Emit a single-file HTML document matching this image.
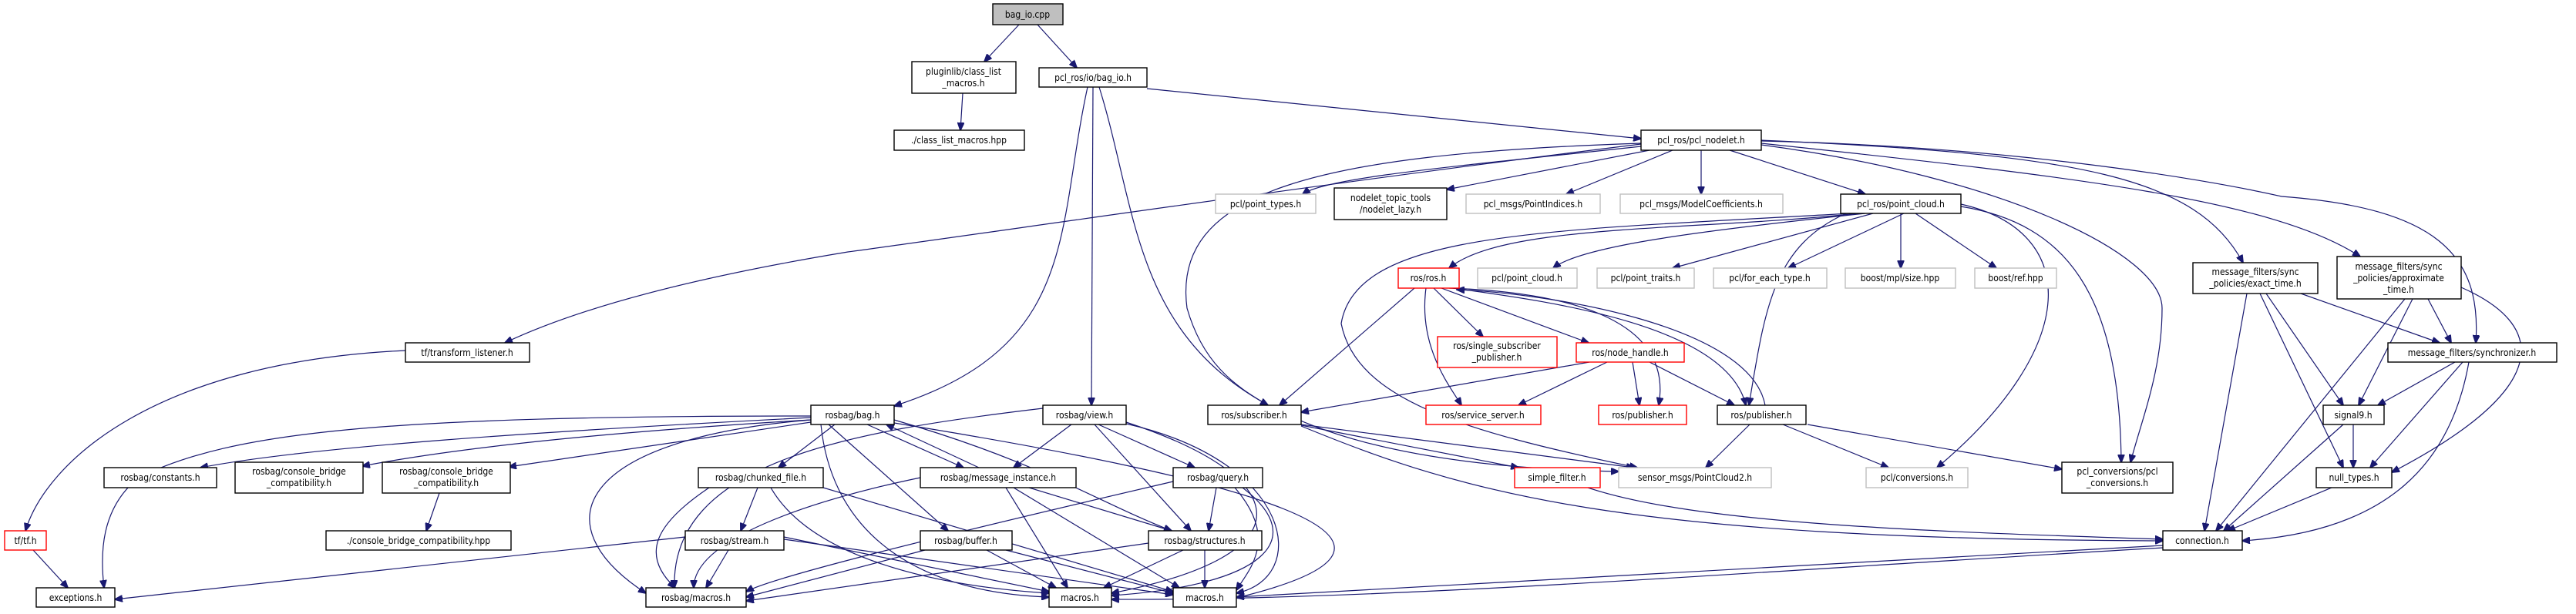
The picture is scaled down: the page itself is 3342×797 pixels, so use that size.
<!DOCTYPE html>
<html><head><meta charset="utf-8"><style>
html,body{margin:0;padding:0;background:#fff;}
svg{display:block;}
text{font-family:"DejaVu Sans Condensed","DejaVu Sans","Liberation Sans",sans-serif;font-size:12px;fill:#000;text-anchor:middle;}
.b{fill:#fff;stroke:#000;stroke-width:1.4;}
.g{fill:#fff;stroke:#bfbfbf;stroke-width:1.4;}
.r{fill:#fff;stroke:#ff0000;stroke-width:1.4;}
.s{fill:#bfbfbf;stroke:#000;stroke-width:1.4;}
path{fill:none;stroke:#191970;stroke-width:1.2;}
</style></head><body>
<svg width="3342" height="797" viewBox="0 0 3342 797" xmlns="http://www.w3.org/2000/svg">
<defs><marker id="a" markerWidth="11" markerHeight="9" refX="10" refY="4.5" orient="auto" markerUnits="userSpaceOnUse"><polygon points="0,0 11,4.5 0,9" fill="#191970" stroke="#191970"/></marker></defs>
<g marker-end="url(#a)">
<path d="M1322,32 L1277,80"/>
<path d="M1346,32 L1397,88"/>
<path d="M1249,121 L1246,169"/>
<path d="M1488,115 L2129,180"/>
<path d="M1411,113 C1370,300 1400,450 1160,527"/>
<path d="M1418,113 L1416,526"/>
<path d="M1426,113 C1500,350 1450,600 2100,612"/>
<path d="M2129,187 C1700,240 1300,300 1100,327 C900,360 750,400 655,445"/>
<path d="M2129,190 C1900,215 1720,230 1690,252"/>
<path d="M2140,195 L1877,246"/>
<path d="M2170,195 L2032,252"/>
<path d="M2207,195 L2207,252"/>
<path d="M2244,195 L2420,252"/>
<path d="M2129,186 C1700,200 1520,250 1540,400 C1560,470 1600,500 1645,526"/>
<path d="M2285,182 C2700,200 2850,230 2910,341"/>
<path d="M2285,186 C2700,230 2950,260 3062,333"/>
<path d="M2285,183 C2600,190 2850,230 2960,255 C3160,270 3220,330 3212,445"/>
<path d="M2285,188 C2600,230 2805,330 2805,400 C2805,480 2780,540 2764,600"/>
<path d="M2544,268 C2680,290 2750,380 2752,600"/>
<path d="M2544,265 C2700,300 2700,450 2513,607"/>
<path d="M2410,277 C2200,300 1950,290 1880,348"/>
<path d="M2420,277 C2200,300 2050,320 2015,348"/>
<path d="M2430,277 L2170,348"/>
<path d="M2470,277 L2320,348"/>
<path d="M2466,277 L2466,348"/>
<path d="M2485,277 L2590,348"/>
<path d="M2400,277 C2000,300 1760,300 1740,420 C1760,520 1900,560 2124,607"/>
<path d="M2395,277 C2300,320 2290,400 2269,526"/>
<path d="M1835,374 L1660,526"/>
<path d="M1860,374 L1924,437"/>
<path d="M1870,374 L2061,445"/>
<path d="M1850,374 C1840,450 1880,500 1896,526"/>
<path d="M1880,374 C2050,380 2170,420 2152,526"/>
<path d="M1885,374 C2000,390 2240,420 2265,526"/>
<path d="M2290,526 C2270,420 2000,380 1890,376"/>
<path d="M2062,470 L1688,535"/>
<path d="M2085,470 L1970,526"/>
<path d="M2118,470 L2127,526"/>
<path d="M2140,470 L2250,526"/>
<path d="M1688,551 L2120,607"/>
<path d="M1688,553 C1900,640 2100,700 2806,702"/>
<path d="M1688,552 L1970,607"/>
<path d="M2060,633 C2200,680 2500,690 2806,700"/>
<path d="M2270,551 L2213,607"/>
<path d="M2313,551 L2450,607"/>
<path d="M2345,551 L2675,609"/>
<path d="M2985,381 L3165,445"/>
<path d="M2940,381 L3040,526"/>
<path d="M2932,381 L3040,607"/>
<path d="M2915,381 L2860,689"/>
<path d="M3150,388 L3180,445"/>
<path d="M3130,388 L3060,526"/>
<path d="M3120,388 L2875,689"/>
<path d="M3193,373 C3300,420 3320,500 3103,613"/>
<path d="M3185,470 L3085,526"/>
<path d="M3195,470 L3075,607"/>
<path d="M3203,470 C3180,600 3100,690 2909,702"/>
<path d="M3053,551 L3053,607"/>
<path d="M3040,551 L2885,689"/>
<path d="M3025,633 L2890,689"/>
<path d="M2806,708 L1604,775"/>
<path d="M2806,711 C2300,740 1800,780 1442,778"/>
<path d="M1052,540 C500,540 300,560 180,620 C130,660 130,720 135,763"/>
<path d="M1052,542 C700,560 400,580 260,607"/>
<path d="M1052,545 C800,560 600,580 470,605"/>
<path d="M1052,548 L660,606"/>
<path d="M1052,545 C750,570 700,680 838,770"/>
<path d="M1083,551 L1010,607"/>
<path d="M1125,551 L1250,607"/>
<path d="M1075,551 L1230,689"/>
<path d="M1160,545 C1350,600 1420,650 1520,689"/>
<path d="M1065,551 C1080,700 1200,770 1361,775"/>
<path d="M1160,549 C1600,620 1920,700 1604,776"/>
<path d="M1270,607 L1150,551"/>
<path d="M1335,633 L1520,689"/>
<path d="M1305,633 L1385,763"/>
<path d="M1315,633 L1530,763"/>
<path d="M1194,620 C1050,650 900,700 900,763"/>
<path d="M1353,530 C1100,560 870,600 875,763"/>
<path d="M1390,551 L1315,607"/>
<path d="M1425,551 L1550,607"/>
<path d="M1420,551 L1545,689"/>
<path d="M1461,550 C1680,600 1700,750 1604,770"/>
<path d="M1461,548 C1680,620 1700,720 1442,770"/>
<path d="M1578,633 L1568,689"/>
<path d="M1602,633 C1660,700 1620,740 1604,766"/>
<path d="M1612,633 C1700,700 1640,760 1442,773"/>
<path d="M1522,625 C1200,700 1000,750 968,768"/>
<path d="M1280,714 L1370,763"/>
<path d="M1305,714 L1522,770"/>
<path d="M1200,714 L968,775"/>
<path d="M1535,714 L1432,763"/>
<path d="M1563,714 L1563,763"/>
<path d="M1490,705 L968,780"/>
<path d="M983,633 L961,689"/>
<path d="M920,633 C850,680 830,720 876,763"/>
<path d="M1068,633 L1522,768"/>
<path d="M1000,633 C1050,720 1200,760 1361,770"/>
<path d="M889,697 L149,778"/>
<path d="M945,714 L916,763"/>
<path d="M1017,697 L1361,768"/>
<path d="M1017,700 L1522,772"/>
<path d="M570,640 L553,689"/>
<path d="M526,455 C200,470 60,600 33,689"/>
<path d="M43,714 L88,763"/>
</g>
<g>
<rect class="s" x="1288" y="5" width="91" height="27"/><text x="1333" y="23">bag_io.cpp</text>
<rect class="b" x="1183" y="80" width="135" height="41"/><text x="1250" y="97">pluginlib/class_list</text><text x="1250" y="112">_macros.h</text>
<rect class="b" x="1160" y="169" width="169" height="26"/><text x="1244" y="186">./class_list_macros.hpp</text>
<rect class="b" x="1348" y="88" width="140" height="25"/><text x="1418" y="105">pcl_ros/io/bag_io.h</text>
<rect class="b" x="2129" y="169" width="156" height="26"/><text x="2207" y="186">pcl_ros/pcl_nodelet.h</text>
<rect class="g" x="1577" y="252" width="130" height="25"/><text x="1642" y="269">pcl/point_types.h</text>
<rect class="b" x="1731" y="244" width="146" height="41"/><text x="1804" y="261">nodelet_topic_tools</text><text x="1804" y="276">/nodelet_lazy.h</text>
<rect class="g" x="1902" y="252" width="174" height="25"/><text x="1989" y="269">pcl_msgs/PointIndices.h</text>
<rect class="g" x="2102" y="252" width="211" height="25"/><text x="2207" y="269">pcl_msgs/ModelCoefficients.h</text>
<rect class="b" x="2388" y="252" width="156" height="25"/><text x="2466" y="269">pcl_ros/point_cloud.h</text>
<rect class="r" x="1814" y="348" width="79" height="26"/><text x="1853" y="365">ros/ros.h</text>
<rect class="g" x="1917" y="348" width="129" height="26"/><text x="1981" y="365">pcl/point_cloud.h</text>
<rect class="g" x="2072" y="348" width="126" height="26"/><text x="2135" y="365">pcl/point_traits.h</text>
<rect class="g" x="2223" y="348" width="147" height="26"/><text x="2296" y="365">pcl/for_each_type.h</text>
<rect class="g" x="2394" y="348" width="143" height="26"/><text x="2465" y="365">boost/mpl/size.hpp</text>
<rect class="g" x="2562" y="348" width="106" height="26"/><text x="2615" y="365">boost/ref.hpp</text>
<rect class="b" x="2845" y="341" width="162" height="40"/><text x="2926" y="357">message_filters/sync</text><text x="2926" y="372">_policies/exact_time.h</text>
<rect class="b" x="3032" y="333" width="161" height="55"/><text x="3112" y="350">message_filters/sync</text><text x="3112" y="365">_policies/approximate</text><text x="3112" y="380">_time.h</text>
<rect class="b" x="526" y="445" width="161" height="25"/><text x="606" y="462">tf/transform_listener.h</text>
<rect class="r" x="1865" y="437" width="155" height="40"/><text x="1942" y="453">ros/single_subscriber</text><text x="1942" y="468">_publisher.h</text>
<rect class="r" x="2045" y="445" width="140" height="25"/><text x="2115" y="462">ros/node_handle.h</text>
<rect class="b" x="3098" y="445" width="219" height="25"/><text x="3207" y="462">message_filters/synchronizer.h</text>
<rect class="b" x="1052" y="526" width="108" height="25"/><text x="1106" y="543">rosbag/bag.h</text>
<rect class="b" x="1353" y="526" width="108" height="25"/><text x="1407" y="543">rosbag/view.h</text>
<rect class="b" x="1567" y="526" width="121" height="25"/><text x="1627" y="543">ros/subscriber.h</text>
<rect class="r" x="1850" y="526" width="149" height="25"/><text x="1924" y="543">ros/service_server.h</text>
<rect class="r" x="2074" y="526" width="114" height="25"/><text x="2131" y="543">ros/publisher.h</text>
<rect class="b" x="2228" y="526" width="115" height="25"/><text x="2285" y="543">ros/publisher.h</text>
<rect class="b" x="3014" y="526" width="79" height="25"/><text x="3053" y="543">signal9.h</text>
<rect class="b" x="135" y="607" width="146" height="26"/><text x="208" y="624">rosbag/constants.h</text>
<rect class="b" x="305" y="600" width="166" height="40"/><text x="388" y="616">rosbag/console_bridge</text><text x="388" y="631">_compatibility.h</text>
<rect class="b" x="496" y="600" width="166" height="40"/><text x="579" y="616">rosbag/console_bridge</text><text x="579" y="631">_compatibility.h</text>
<rect class="b" x="906" y="607" width="162" height="26"/><text x="987" y="624">rosbag/chunked_file.h</text>
<rect class="b" x="1194" y="607" width="202" height="26"/><text x="1295" y="624">rosbag/message_instance.h</text>
<rect class="b" x="1522" y="607" width="116" height="26"/><text x="1580" y="624">rosbag/query.h</text>
<rect class="r" x="1965" y="607" width="111" height="26"/><text x="2020" y="624">simple_filter.h</text>
<rect class="g" x="2100" y="607" width="198" height="26"/><text x="2199" y="624">sensor_msgs/PointCloud2.h</text>
<rect class="g" x="2421" y="607" width="132" height="26"/><text x="2487" y="624">pcl/conversions.h</text>
<rect class="b" x="2675" y="600" width="144" height="40"/><text x="2747" y="616">pcl_conversions/pcl</text><text x="2747" y="631">_conversions.h</text>
<rect class="b" x="3005" y="607" width="98" height="26"/><text x="3054" y="624">null_types.h</text>
<rect class="r" x="6" y="689" width="54" height="25"/><text x="33" y="706">tf/tf.h</text>
<rect class="b" x="423" y="689" width="240" height="25"/><text x="543" y="706">./console_bridge_compatibility.hpp</text>
<rect class="b" x="889" y="689" width="128" height="25"/><text x="953" y="706">rosbag/stream.h</text>
<rect class="b" x="1194" y="689" width="119" height="25"/><text x="1253" y="706">rosbag/buffer.h</text>
<rect class="b" x="1490" y="689" width="147" height="25"/><text x="1563" y="706">rosbag/structures.h</text>
<rect class="b" x="2806" y="689" width="103" height="25"/><text x="2857" y="706">connection.h</text>
<rect class="b" x="47" y="763" width="102" height="25"/><text x="98" y="780">exceptions.h</text>
<rect class="b" x="838" y="763" width="130" height="25"/><text x="903" y="780">rosbag/macros.h</text>
<rect class="b" x="1361" y="763" width="81" height="25"/><text x="1401" y="780">macros.h</text>
<rect class="b" x="1522" y="763" width="82" height="25"/><text x="1563" y="780">macros.h</text>
</g>
</svg>
</body></html>
